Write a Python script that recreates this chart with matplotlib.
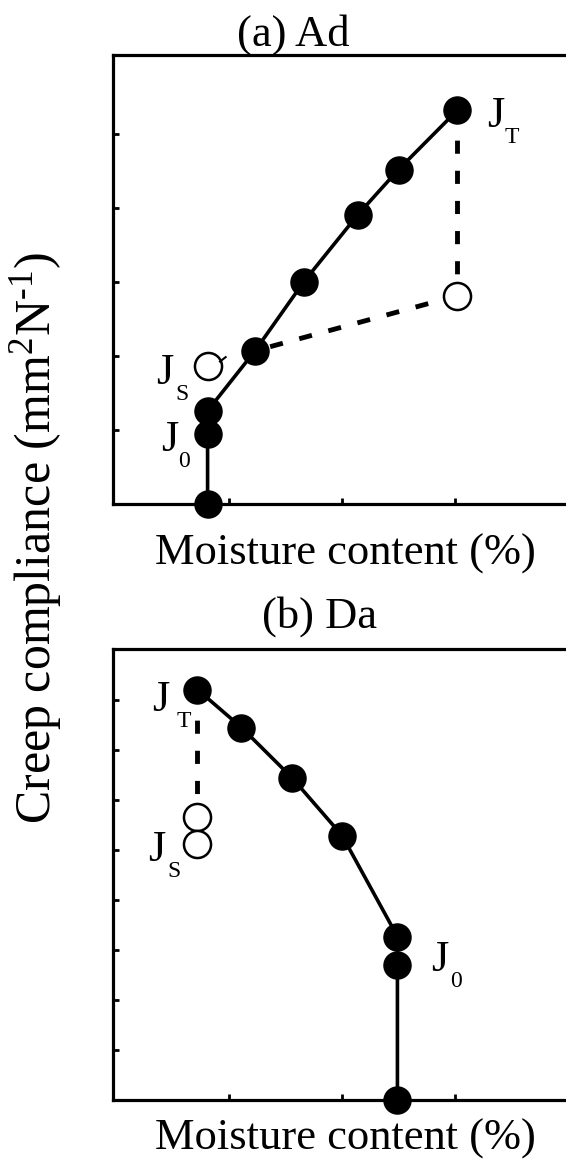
import matplotlib
matplotlib.use("Agg")
import matplotlib.pyplot as plt

plt.rcParams['font.family'] = ['Liberation Serif', 'DejaVu Serif']
plt.rcParams['mathtext.fontset'] = 'custom'
plt.rcParams['mathtext.rm'] = 'Liberation Serif'
plt.rcParams['mathtext.it'] = 'Liberation Serif'

# ---- data (arbitrary units) ----
a_x = [0.81, 0.81, 0.81, 1.23, 1.66, 2.14, 2.50, 3.02]
a_y = [0.00, 0.94, 1.26, 2.07, 3.00, 3.91, 4.52, 5.32]
a_open_x = [3.02, 0.81]
a_open_y = [2.815, 1.865]

b_x = [2.49, 2.49, 2.49, 2.00, 1.555, 1.11, 0.72]
b_y = [0.00, 2.71, 3.27, 5.29, 6.45, 7.45, 8.21]
b_open_x = [0.72, 0.72]
b_open_y = [5.67, 5.13]

W, H = 566, 1160
fig = plt.figure(figsize=(W / 100, H / 100), dpi=100)


def fx(px):
    return px / W


def fy(py):
    return 1 - py / H


def make_ax(top, bottom, ymax):
    left, right = 113, 620
    ax = fig.add_axes([fx(left), fy(bottom), (right - left) / W, (bottom - top) / H])
    ax.set_xlim(-0.027, -0.027 + (right - left) / 113.0)
    ax.set_ylim(0, ymax)
    for s in ax.spines.values():
        s.set_linewidth(2.3)
    ax.tick_params(direction='in', length=4, width=2, labelleft=False, labelbottom=False)
    return ax


lw_solid = 2.6
ms = 19.5
dash_kw = dict(color='black', lw=3.5, dashes=(2.7, 3.5), dash_capstyle='butt', zorder=2)

# ---- panel (a) ----
axa = make_ax(55, 504, 449 / 74.0)
axa.set_xticks([1, 2, 3, 4])
axa.set_yticks([1, 2, 3, 4, 5])
axa.plot([a_x[-1], a_open_x[0]], [a_y[-1], a_open_y[0]], **dash_kw)
axa.plot([a_open_x[0], a_x[3]], [a_open_y[0], a_y[3]], **dash_kw)
axa.plot(a_x, a_y, '-', color='black', lw=lw_solid, zorder=3)
axa.plot(a_x, a_y, 'o', color='black', ms=ms, zorder=4, clip_on=False)
axa.plot(a_open_x, a_open_y, 'o', mfc='white', mec='black', mew=1.8, ms=ms, zorder=4)
axa.plot([a_open_x[1] + 0.11, a_open_x[1] + 0.16], [a_open_y[1] + 0.06, a_open_y[1] + 0.12],
         color='black', lw=1.5, zorder=4)

# ---- panel (b) ----
axb = make_ax(649, 1100, 451 / 50.0)
axb.set_xticks([1, 2, 3, 4])
axb.set_yticks([1, 2, 3, 4, 5, 6, 7, 8])
axb.plot([b_x[-1], b_open_x[0]], [b_y[-1], b_open_y[0]], **dash_kw)
axb.plot(b_x, b_y, '-', color='black', lw=lw_solid, zorder=3)
axb.plot(b_x, b_y, 'o', color='black', ms=ms, zorder=4, clip_on=False)
axb.plot(b_open_x, b_open_y, 'o', mfc='white', mec='black', mew=1.8, ms=ms, zorder=4)

# ---- text ----
big = 32
sub = 17


def jlabel(jx, jy, sx, sy, s):
    fig.text(fx(jx), fy(jy), 'J', fontsize=big, ha='left', va='baseline')
    fig.text(fx(sx), fy(sy), s, fontsize=sub, ha='left', va='baseline')


jlabel(487, 127, 505, 143, 'T')
jlabel(156, 384, 175, 400, 'S')
jlabel(161, 451, 178, 467, '0')
jlabel(152, 711, 177, 727, 'T')
jlabel(148, 861, 167, 877, 'S')
jlabel(431, 971, 450, 987, '0')

fig.text(fx(293), fy(46), '(a) Ad', fontsize=big, ha='center', va='baseline')
fig.text(fx(319), fy(628), '(b) Da', fontsize=big, ha='center', va='baseline')
fig.text(fx(345), fy(565), 'Moisture content (%)', fontsize=big, ha='center', va='baseline')
fig.text(fx(345), fy(1150), 'Moisture content (%)', fontsize=big, ha='center', va='baseline')
fig.text(fx(36), fy(538), 'Creep compliance (mm$^{2}$N$^{\u2010 1}$)', fontsize=36,
         rotation=90, ha='center', va='center')

fig.savefig('out.png', dpi=100, facecolor='white')
